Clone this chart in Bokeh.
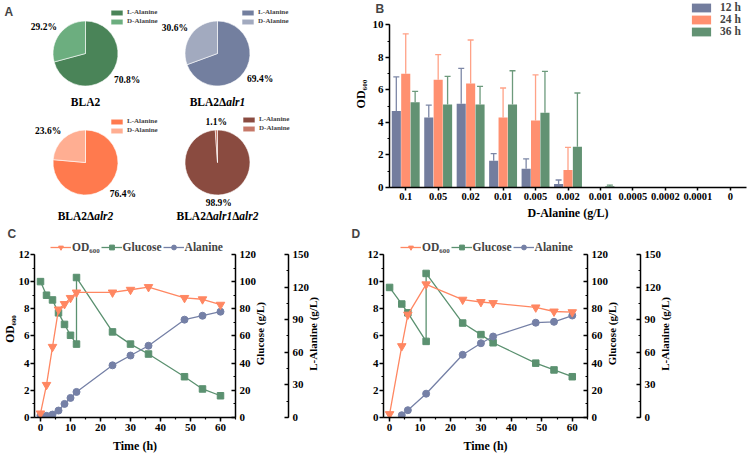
import numpy as np
from bokeh.plotting import figure
from bokeh.models import (Range1d, FactorRange, LinearAxis, Legend, LegendItem, Label,
                          Whisker, TeeHead, ColumnDataSource, FixedTicker, SingleIntervalTicker)
from bokeh.layouts import row, column
from bokeh.transform import dodge
from bokeh.core.properties import value
from bokeh.embed import file_html
from bokeh.resources import INLINE

SERIF = "Liberation Serif"
SANS = "Liberation Sans"

# ---------------- Panel A data ----------------
strains = ["BLA2", "BLA2Δalr1", "BLA2Δalr2", "BLA2Δalr1Δalr2"]
l_alanine_pct = [70.8, 69.4, 76.4, 98.9]
d_alanine_pct = [29.2, 30.6, 23.6, 1.1]
slice_names = ["L-Alanine", "D-Alanine"]
pie_colors = [("#4A8458", "#6CAE7F"), ("#737F9F", "#A2AABF"),
              ("#FF7A4E", "#FFAE92"), ("#8A4B40", "#C67868")]

# ---------------- Panel B data ----------------
d_ala_conc = ["0.1", "0.05", "0.02", "0.01", "0.005", "0.002", "0.001", "0.0005", "0.0002", "0.0001", "0"]
series_b = ["12 h", "24 h", "36 h"]
od_12h = [4.70, 4.30, 5.15, 1.65, 1.15, 0.22, 0, 0, 0, 0, 0]
err_12h = [2.10, 0.77, 2.18, 0.43, 0.61, 0.24, 0, 0, 0, 0, 0]
od_24h = [7.00, 6.63, 6.40, 4.30, 4.12, 1.08, 0, 0, 0, 0, 0]
err_24h = [2.45, 1.54, 2.67, 1.82, 2.80, 1.39, 0, 0, 0, 0, 0]
od_36h = [5.24, 5.10, 5.10, 5.10, 4.60, 2.50, 0.08, 0, 0, 0, 0]
err_36h = [0.67, 1.74, 1.12, 2.08, 2.54, 3.31, 0.07, 0, 0, 0, 0]
bar_colors = ["#737D9E", "#FF9070", "#629273"]
err_colors = ["#7D87A6", "#FFA287", "#6D9A7C"]

# ---------------- Panel C data ----------------
c_time = [0, 2, 4, 6, 8, 10, 12, 24, 30, 36, 48, 54, 60]
c_od600 = [0.3, 2.4, 5.2, 7.95, 8.35, 8.8, 9.2, 9.2, 9.4, 9.6, 8.8, 8.7, 8.3]
c_glc_time = [0, 2, 4, 6, 8, 10, 12, 12, 24, 30, 36, 48, 54, 60]
c_glucose = [100, 90, 86.5, 77, 68.5, 60.5, 54, 103, 63, 54, 46.7, 30, 21, 16]
c_alanine = [1.9, 1.5, 2.7, 6.4, 12.5, 18, 23.5, 48, 57, 66, 90, 93.6, 97.3]

# ---------------- Panel D data ----------------
d_od_time = [0, 4, 6, 12, 24, 30, 34, 48, 54, 60]
d_od600 = [0.25, 5.25, 7.57, 9.8, 8.67, 8.5, 8.42, 8.1, 7.8, 7.75]
d_glc_time = [0, 4, 6, 12, 12, 24, 30, 34, 48, 54, 60]
d_glucose = [95.7, 83.5, 77, 56, 106, 69.5, 61, 55, 40, 35, 30]
d_ala_time = [4, 6, 12, 24, 30, 34, 48, 54, 60]
d_alanine = [2.1, 6.7, 21.9, 57.7, 68.3, 74.5, 87.2, 88, 93.8]

C_OD = "#FF8762"
C_GLC = "#5B9170"
C_ALA = "#7580A6"

legend_labels_cd = ["OD₆₀₀", "Glucose", "Alanine"]


def bare(p):
    p.xaxis.visible = False
    p.yaxis.visible = False
    p.grid.visible = False
    p.outline_line_color = None
    p.background_fill_color = None
    p.border_fill_color = None


def style_axis(ax, inward=False, label_size="12px"):
    ax.axis_line_width = 1.5
    ax.axis_line_color = "black"
    ax.major_tick_line_width = 1.5
    ax.major_tick_line_color = "black"
    ax.minor_tick_line_color = "black"
    ax.minor_tick_line_width = 1.2
    if inward:
        ax.major_tick_in, ax.major_tick_out = 4, 0
        ax.minor_tick_in, ax.minor_tick_out = 2, 0
    else:
        ax.major_tick_in, ax.major_tick_out = 0, 4
        ax.minor_tick_in, ax.minor_tick_out = 0, 2
    ax.major_label_text_font = SERIF
    ax.major_label_text_font_style = "bold"
    ax.major_label_text_font_size = "11px"
    ax.major_label_text_color = "black"
    ax.axis_label_text_font = SERIF
    ax.axis_label_text_font_style = "bold"
    ax.axis_label_text_font_size = label_size
    ax.axis_label_text_color = "black"
    ax.major_label_standoff = 2
    ax.axis_label_standoff = 3


def letter_label(text, x, y):
    return Label(x=x, y=y, x_units="screen", y_units="screen", text=text,
                 text_font=SANS, text_font_style="bold", text_font_size="12px",
                 text_baseline="top", text_align="left")


# widths of Times bold glyphs (em) for composing strain titles
W_UP = {"B": 0.667, "L": 0.667, "A": 0.722, "2": 0.5, "1": 0.5, "Δ": 0.62}
W_IT = {"a": 0.5, "l": 0.278, "r": 0.389, "1": 0.5, "2": 0.5}


def title_parts(name):
    segs = name.split("Δ")
    parts = [(segs[0], "bold")]
    for s in segs[1:]:
        parts.append(("Δ", "bold"))
        parts.append((s, "bold italic"))
    return parts


def pie_fig(i, W, H, cx, cy, leg_xy, title_dy, letter=None):
    R = 32.5
    p = figure(width=W, height=H, x_range=Range1d(-cx, W - cx), y_range=Range1d(-(H - cy), cy),
               output_backend="svg", toolbar_location=None, min_border=0)
    bare(p)
    lc, dc = pie_colors[i]
    d = d_alanine_pct[i] / 100.0
    l = l_alanine_pct[i] / 100.0
    a0 = np.pi / 2
    a1 = a0 + 2 * np.pi * d
    rl = p.wedge(x=0, y=0, radius=R, start_angle=a1, end_angle=a0 + 2 * np.pi,
                 fill_color=lc, line_color="white", line_width=0.6)
    rd = p.wedge(x=0, y=0, radius=R, start_angle=a0, end_angle=a1,
                 fill_color=dc, line_color="white", line_width=0.6)
    for pct, mid in ((d_alanine_pct[i], a0 + np.pi * d), (l_alanine_pct[i], a1 + np.pi * l)):
        c, s = np.cos(mid), np.sin(mid)
        align = "center" if abs(c) < 0.3 else ("right" if c < 0 else "left")
        base = "bottom" if s > 0 else "top"
        p.text(x=[36 * c], y=[36 * s], text=[f"{pct:.1f}%"], text_align=align, text_baseline=base,
               text_font=value(SERIF), text_font_style="bold", text_font_size="9.5px", text_color="black")
    fs = 11.5
    parts = title_parts(strains[i])
    widths = []
    for t, st in parts:
        tab = W_IT if "italic" in st else W_UP
        widths.append(sum(tab.get(ch, 0.55) for ch in t) * fs)
    x = -sum(widths) / 2
    for (t, st), w in zip(parts, widths):
        p.text(x=[x], y=[title_dy], text=[t], text_align="left", text_baseline="middle",
               text_font=value(SERIF), text_font_style=st, text_font_size=f"{fs}px", text_color="black")
        x += w
    leg = Legend(items=[LegendItem(label=slice_names[0], renderers=[rl]),
                        LegendItem(label=slice_names[1], renderers=[rd])],
                 location=leg_xy, glyph_width=15, glyph_height=7, label_height=7, spacing=1,
                 padding=0, margin=0, label_standoff=3, border_line_color=None,
                 background_fill_alpha=0, label_text_font=SERIF, label_text_font_style="bold",
                 label_text_font_size="7px")
    p.add_layout(leg)
    if letter:
        p.add_layout(letter_label(letter, 4, H - 4))
    return p


p1 = pie_fig(0, 160, 108, 85, 53, (109, 83), -48, letter="A")
p2 = pie_fig(1, 181, 108, 57, 53, (80, 83), -48)
p3 = pie_fig(2, 160, 114, 85, 54, (109, 88), -53)
p4 = pie_fig(3, 181, 114, 57, 54, (81, 90), -53)

# ---------------- Panel B ----------------
pB = figure(width=406, height=222, x_range=FactorRange(*d_ala_conc), y_range=Range1d(0, 11.5),
            output_backend="svg", toolbar_location=None,
            min_border_left=42, min_border_right=1, min_border_top=0, min_border_bottom=34)
pB.grid.visible = False
pB.outline_line_color = None
srcB = ColumnDataSource(dict(conc=d_ala_conc, h12=od_12h, h24=od_24h, h36=od_36h))
offsets = [-0.29, 0.0, 0.29]
bar_r = []
for key, vals, errs, off, col, ecol in zip(["h12", "h24", "h36"], [od_12h, od_24h, od_36h],
                                            [err_12h, err_24h, err_36h], offsets, bar_colors, err_colors):
    keep = [k for k, e in enumerate(errs) if e > 0]
    wsrc = ColumnDataSource(dict(conc=[d_ala_conc[k] for k in keep],
                                 lo=[vals[k] for k in keep],
                                 up=[vals[k] + errs[k] for k in keep]))
    pB.add_layout(Whisker(base=dodge("conc", off, range=pB.x_range), lower="lo", upper="up", source=wsrc,
                          line_color=ecol, line_width=1.3,
                          upper_head=TeeHead(size=6, line_color=ecol, line_width=1.3), lower_head=None))
    r = pB.vbar(x=dodge("conc", off, range=pB.x_range), top=key, width=0.28, source=srcB,
                fill_color=col, line_color=None)
    bar_r.append(r)

style_axis(pB.xaxis[0])
style_axis(pB.yaxis[0])
pB.yaxis[0].ticker = SingleIntervalTicker(interval=2, num_minor_ticks=2)
pB.yaxis[0].bounds = (0, 10)
pB.yaxis[0].axis_label = "OD₆₀₀"
pB.yaxis[0].axis_label_standoff = 2
pB.xaxis[0].axis_label = "D-Alanine (g/L)"
pB.xaxis[0].major_tick_out = 3
pB.xaxis[0].major_label_text_font_size = "10.5px"
legB = Legend(items=[LegendItem(label=s, renderers=[r]) for s, r in zip(series_b, bar_r)],
              location=(300, 150), glyph_width=24, glyph_height=11, label_height=11, spacing=0,
              padding=0, margin=0, label_standoff=7, border_line_color=None, background_fill_alpha=0,
              label_text_font=SERIF, label_text_font_style="bold", label_text_font_size="11.5px")
pB.add_layout(legB)
pB.add_layout(letter_label("B", 34, 186), "left")

# ---------------- Panels C and D ----------------
# visible axis extents; the frame reaches a little higher so the legend fits inside it
OD_MAX, GLC_MAX, ALA_MAX = 12, 120, 150
EXT = 178 / 164.0
NB = "\u00a0"


def label_axis(rng, text, pad, standoff):
    # label read bottom-to-top, anchored at the bottom of the axis and lifted by leading no-break spaces
    return LinearAxis(y_range_name=rng, ticker=FixedTicker(ticks=[]), axis_label=NB * pad + text,
                      axis_line_color=None, major_tick_line_color=None, minor_tick_line_color=None,
                      major_label_text_font_size="0px", axis_label_standoff=standoff,
                      axis_label_orientation=np.pi / 2, axis_label_align="start",
                      axis_label_text_font=SERIF, axis_label_text_font_style="bold",
                      axis_label_text_font_size="11px", axis_label_text_color="black")


def time_fig(W, H, t_od, od, t_glc, glc, t_ala, ala, letter, ylabel, bl, br, leg_vx, letter_x):
    p = figure(width=W, height=H, x_range=Range1d(-2, 65), y_range=Range1d(0, OD_MAX * EXT),
               output_backend="svg", toolbar_location=None,
               min_border_left=bl, min_border_right=br, min_border_top=18, min_border_bottom=37)
    p.grid.visible = False
    p.outline_line_color = None
    p.extra_y_ranges = {"glu": Range1d(0, GLC_MAX * EXT), "ala": Range1d(0, ALA_MAX * EXT)}
    l_glc = p.line(t_glc, glc, y_range_name="glu", line_color=C_GLC, line_width=1.3)
    s_glc = p.scatter(t_glc, glc, y_range_name="glu", marker="square", size=6.5, fill_color=C_GLC,
                      line_color=C_GLC)
    l_ala = p.line(t_ala, ala, y_range_name="ala", line_color=C_ALA, line_width=1.3)
    s_ala = p.scatter(t_ala, ala, y_range_name="ala", marker="circle", size=7, fill_color=C_ALA,
                      line_color=C_ALA)
    l_od = p.line(t_od, od, line_color=C_OD, line_width=1.3)
    s_od = p.scatter(t_od, od, marker="inverted_triangle", size=8.5, fill_color=C_OD, line_color=C_OD)

    style_axis(p.xaxis[0])
    p.xaxis[0].ticker = SingleIntervalTicker(interval=10, num_minor_ticks=2)
    p.xaxis[0].axis_label = "Time (h)"
    p.xaxis[0].axis_label_standoff = 5
    style_axis(p.yaxis[0], label_size="11.5px")
    p.yaxis[0].ticker = SingleIntervalTicker(interval=2, num_minor_ticks=2)
    p.yaxis[0].bounds = (0, OD_MAX)
    p.yaxis[0].major_label_standoff = 1
    if ylabel:
        p.yaxis[0].axis_label = "OD₆₀₀"
        p.yaxis[0].axis_label_standoff = 0

    ax_glc = LinearAxis(y_range_name="glu", bounds=(0, GLC_MAX),
                        ticker=SingleIntervalTicker(interval=20, num_minor_ticks=2))
    style_axis(ax_glc, inward=True)
    ax_glc.major_label_standoff = 4
    p.add_layout(ax_glc, "right")
    p.add_layout(label_axis("glu", "Glucose (g/L)", 19, 0), "right")

    spacer = LinearAxis(y_range_name="glu", ticker=FixedTicker(ticks=[]), axis_label=NB,
                        axis_line_color=None, major_tick_line_color=None, minor_tick_line_color=None,
                        major_label_text_font_size="0px", axis_label_text_font_size="1px",
                        axis_label_standoff=10)
    p.add_layout(spacer, "right")

    ax_ala = LinearAxis(y_range_name="ala", bounds=(0, ALA_MAX),
                        ticker=SingleIntervalTicker(interval=30, num_minor_ticks=2))
    style_axis(ax_ala, inward=True)
    ax_ala.major_label_standoff = 4
    p.add_layout(ax_ala, "right")
    p.add_layout(label_axis("ala", "L-Alanine (g/L)", 17, 0), "right")

    leg = Legend(items=[LegendItem(label=legend_labels_cd[0], renderers=[l_od, s_od]),
                        LegendItem(label=legend_labels_cd[1], renderers=[l_glc, s_glc]),
                        LegendItem(label=legend_labels_cd[2], renderers=[l_ala, s_ala])],
                 location=(leg_vx, 164), orientation="horizontal", glyph_width=21, glyph_height=12,
                 label_height=12, spacing=1, padding=0, margin=0, label_standoff=1,
                 border_line_color=None, background_fill_alpha=0,
                 label_text_font=SERIF, label_text_font_style="bold", label_text_font_size="11.5px")
    p.add_layout(leg)

    p.title.text = letter
    p.title.align = "left"
    p.title.offset = letter_x
    p.title.standoff = 0
    p.title.text_font = SANS
    p.title.text_font_style = "bold"
    p.title.text_font_size = "12px"
    return p


pC = time_fig(345, 233, c_time, c_od600, c_glc_time, c_glucose, c_time, c_alanine, "C", True, 32, 110, 16, -27)
pD = time_fig(402, 233, d_od_time, d_od600, d_glc_time, d_glucose, d_ala_time, d_alanine, "D", False, 38, 160, 17, -32)

layout = column(row(column(row(p1, p2), row(p3, p4)), pB), row(pC, pD))

open("out.html", "w").write(file_html(layout, INLINE))
